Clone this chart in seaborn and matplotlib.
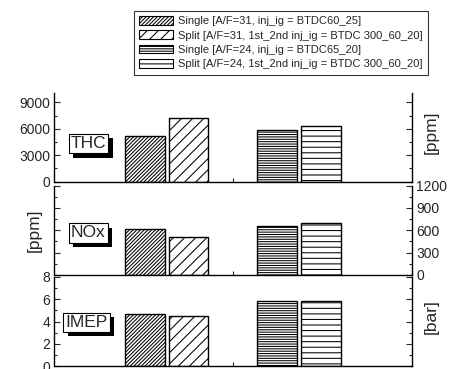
import numpy as np
import pandas as pd
import matplotlib
matplotlib.use("Agg")
import matplotlib.pyplot as plt
import seaborn as sns
from matplotlib.patches import Patch
from matplotlib import patheffects as pe
from matplotlib.ticker import MultipleLocator, FixedLocator

# ---- data ----
groups = ["A/F=31", "A/F=24"]
modes = ["Single", "Split"]
series_labels = [
    "Single [A/F=31, inj_ig = BTDC60_25]",
    "Split [A/F=31, 1st_2nd inj_ig = BTDC 300_60_20]",
    "Single [A/F=24, inj_ig = BTDC65_20]",
    "Split [A/F=24, 1st_2nd inj_ig = BTDC 300_60_20]",
]
series_group = ["A/F=31", "A/F=31", "A/F=24", "A/F=24"]
series_mode = ["Single", "Split", "Single", "Split"]
thc = [5200, 7200, 5900, 6300]
nox = [620, 510, 660, 700]
imep = [4.65, 4.47, 5.88, 5.83]

panel_names = ["THC", "NOx", "IMEP"]
panel_units = ["[ppm]", "[ppm]", "[bar]"]
panel_values = [thc, nox, imep]
panel_ylims = [(0, 10000), (0, 1200), (0, 8)]
panel_major = [3000, 300, 2]
panel_minor = [1500, 150, 1]

# ---- style ----
hatches = ["/////////", "///", "-------", "---"]
sns.set_style("white")
plt.rcParams["font.family"] = ["Liberation Sans", "DejaVu Sans"]
plt.rcParams["hatch.linewidth"] = 0.75
plt.rcParams["axes.linewidth"] = 1.0

W, H = 452, 369
fig = plt.figure(figsize=(W / 100, H / 100), dpi=100)

# axes rects in pixels: (top_y, bottom_y)
left_px, right_px = 54.5, 412
rows_px = [(93.5, 181.7), (185.5, 275.0), (277.0, 366.0)]
label_pos = [(0.095, 0.43), (0.095, 0.47), (0.09, 0.49)]
unit_pos = [(1.055, 0.56), (-0.058, 0.5), (1.053, 0.55)]

for i in range(3):
    top, bot = rows_px[i]
    ax = fig.add_axes([left_px / W, 1 - bot / H, (right_px - left_px) / W, (bot - top) / H])
    df = pd.DataFrame({"group": series_group, "mode": series_mode, "value": panel_values[i]})
    sns.barplot(data=df, x="group", y="value", hue="mode", order=groups, hue_order=modes,
                palette=["white", "white"], saturation=1, width=0.66, gap=0.09,
                edgecolor="black", linewidth=1.0, errorbar=None, legend=False, ax=ax)
    for mi, cont in enumerate(ax.containers):
        for gi, bar in enumerate(cont):
            bar.set_hatch(hatches[gi * 2 + mi])
            bar.set_edgecolor("black")
    ax.set_xlim(-0.85, 1.855)
    ax.set_ylim(*panel_ylims[i])
    ax.set_xlabel("")
    ax.set_ylabel("")
    ax.spines["top"].set_visible(False)
    for s in ["left", "right", "bottom"]:
        ax.spines[s].set_color("black")
    ax.xaxis.set_major_locator(FixedLocator([0.5]))
    ax.set_xticklabels([])
    ax.tick_params(axis="x", direction="in", length=3, width=0.8, bottom=True)
    ax.yaxis.set_major_locator(MultipleLocator(panel_major[i]))
    ax.yaxis.set_minor_locator(MultipleLocator(panel_minor[i]))
    ax.tick_params(axis="y", which="both", direction="in", left=True, right=True,
                   labelleft=(i != 1), labelright=(i == 1), labelsize=10, pad=3, width=0.8)
    ax.tick_params(axis="y", which="major", length=4)
    ax.tick_params(axis="y", which="minor", length=2.5)
    t = ax.text(label_pos[i][0], label_pos[i][1], panel_names[i], transform=ax.transAxes,
                fontsize=12.5, ha="center", va="center",
                bbox=dict(boxstyle="square,pad=0.12", fc="white", ec="black", lw=0.8))
    t.get_bbox_patch().set_path_effects([
        pe.SimplePatchShadow(offset=(3, -3), shadow_rgbFace="black", alpha=1.0),
        pe.Normal()])
    ax.text(unit_pos[i][0], unit_pos[i][1], panel_units[i], transform=ax.transAxes,
            rotation=90, fontsize=12.5, ha="center", va="center")

handles = [Patch(facecolor="white", edgecolor="black", hatch=h, linewidth=0.8) for h in hatches]
leg = fig.legend(handles, series_labels, loc="upper right",
                 bbox_to_anchor=(434 / W, 1 - 5 / H), fontsize=8, frameon=True,
                 fancybox=False, edgecolor="black", labelspacing=0.38,
                 handlelength=3.0, handleheight=0.8, borderpad=0.5, handletextpad=0.5)
leg.get_frame().set_linewidth(0.8)

fig.savefig("out.png", dpi=100)
